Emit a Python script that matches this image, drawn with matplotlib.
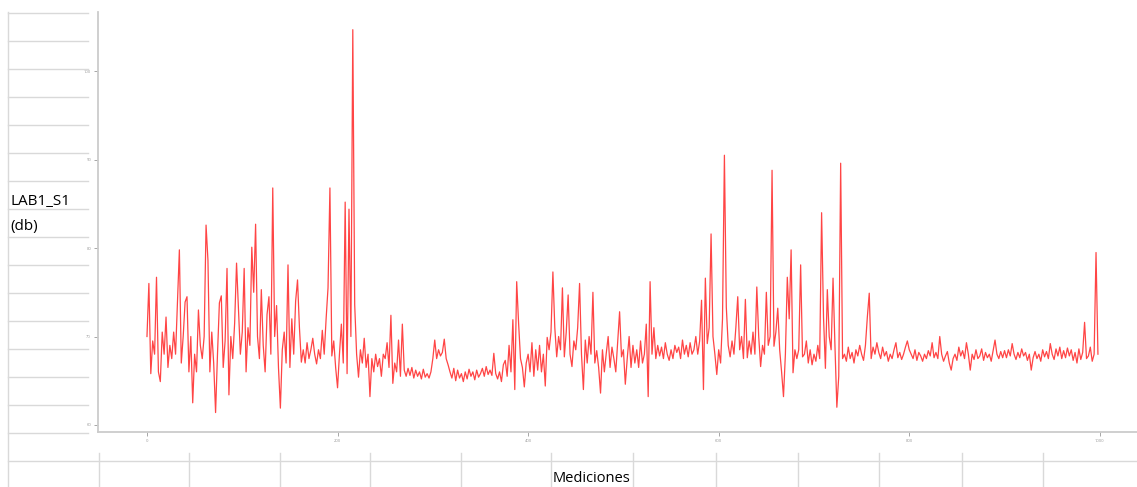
import matplotlib.pyplot as plt
import numpy as np
from matplotlib.lines import Line2D

# numero de medicion (cada 2)
mediciones = np.arange(0, 1000, 2)

# nivel LAB1_S1 en db
nivel_db = [
    70.0, 76.0, 65.8, 69.5, 68.0, 76.7, 66.0, 64.9, 70.5, 68.0, 72.2, 66.5, 69.0, 67.5, 70.5, 68.0, 74.0, 79.8, 67.0, 70.0, 73.9, 74.5, 66.0, 70.0, 62.5,
    68.0, 66.0, 73.0, 69.0, 67.5, 70.0, 82.6, 78.6, 66.0, 70.5, 67.0, 61.4, 68.0, 73.8, 74.6, 66.5, 69.5, 77.7, 63.4, 70.0, 67.5, 71.5, 78.3, 73.0, 68.0,
    70.5, 77.7, 66.0, 71.0, 69.0, 80.1, 75.0, 82.7, 70.0, 67.5, 75.3, 69.0, 66.0, 72.5, 74.5, 68.0, 86.8, 70.0, 73.5, 66.5, 61.9, 68.5, 70.5, 67.0, 78.1,
    66.5, 72.0, 68.0, 74.0, 76.4, 71.0, 67.1, 68.5, 67.0, 69.3, 67.5, 68.5, 69.8, 68.0, 66.9, 68.5, 67.5, 70.7, 68.0, 72.0, 75.5, 86.8, 67.8, 69.5, 66.5,
    64.2, 68.0, 71.4, 67.0, 85.2, 65.8, 84.4, 70.0, 104.7, 73.6, 68.0, 65.4, 68.5, 67.0, 69.8, 66.5, 68.0, 63.2, 67.5, 66.0, 68.0, 66.6, 67.5, 65.5, 68.0,
    67.5, 69.3, 66.5, 72.4, 64.7, 67.0, 66.0, 69.6, 65.5, 71.4, 66.2, 65.5, 66.4, 65.6, 66.5, 65.3, 66.2, 65.5, 66.0, 65.2, 66.3, 65.4, 65.8, 65.3, 66.0,
    67.5, 69.6, 67.5, 68.5, 67.8, 68.2, 69.7, 67.5, 66.8, 66.0, 65.3, 66.4, 65.0, 66.2, 65.3, 65.8, 64.9, 66.0, 65.2, 66.3, 65.5, 66.0, 65.1, 66.2, 65.4,
    65.8, 66.4, 65.5, 66.6, 65.7, 66.2, 65.6, 68.1, 65.8, 65.2, 66.0, 64.9, 66.8, 67.3, 65.5, 69.0, 66.0, 71.9, 64.0, 76.2, 71.5, 67.5, 66.5, 64.3, 67.0,
    68.0, 66.0, 69.3, 65.5, 68.5, 66.2, 69.0, 66.0, 68.0, 64.4, 69.9, 68.5, 70.5, 77.3, 71.0, 67.7, 70.0, 68.5, 75.5, 67.7, 70.5, 74.7, 68.0, 66.6, 69.5,
    68.5, 71.0, 76.0, 68.0, 64.0, 69.6, 67.0, 70.0, 68.0, 75.0, 67.0, 68.4, 66.5, 63.6, 68.5, 66.0, 68.1, 70.0, 66.5, 68.8, 67.5, 66.0, 69.5, 72.8, 67.7,
    68.5, 64.6, 67.5, 70.0, 66.5, 69.0, 67.0, 68.5, 66.5, 69.5, 67.0, 68.0, 71.4, 63.2, 76.2, 68.0, 71.0, 67.5, 69.0, 67.8, 68.8, 67.5, 69.3, 68.0, 67.3,
    68.5, 67.5, 69.0, 68.2, 68.8, 67.5, 69.6, 68.0, 69.0, 67.7, 69.3, 68.0, 68.5, 70.0, 68.0, 69.5, 74.1, 64.0, 76.6, 69.2, 71.0, 81.6, 70.0, 68.0, 65.7,
    68.5, 67.0, 72.0, 90.5, 73.3, 69.0, 67.7, 69.5, 68.0, 71.0, 74.5, 68.5, 70.0, 67.5, 74.2, 67.6, 69.5, 68.0, 70.5, 68.0, 75.6, 70.0, 66.6, 69.0, 68.0,
    75.0, 69.0, 70.0, 88.8, 68.9, 70.5, 73.2, 68.5, 66.0, 63.2, 68.0, 76.7, 72.0, 79.8, 65.9, 68.5, 67.5, 68.5, 78.1, 67.7, 68.0, 69.5, 67.0, 68.5, 66.8,
    68.0, 67.2, 69.0, 67.5, 84.0, 72.2, 66.4, 75.3, 70.0, 68.5, 76.6, 69.0, 62.0, 65.5, 89.6, 67.5, 68.0, 67.2, 68.8, 67.5, 68.2, 67.0, 68.5, 67.8, 69.0,
    68.0, 67.3, 69.0, 72.2, 74.9, 67.5, 68.8, 68.0, 69.3, 68.2, 67.5, 68.8, 67.8, 68.3, 67.2, 68.0, 67.5, 68.5, 69.3, 67.6, 68.2, 67.4, 68.0, 68.8, 69.5,
    68.5, 68.0, 67.5, 68.5, 67.3, 68.2, 67.8, 67.2, 68.0, 67.5, 68.4, 67.8, 69.3, 67.6, 68.2, 67.5, 70.0, 68.0, 67.2, 67.8, 68.3, 67.0, 66.2, 67.5, 68.0,
    67.3, 68.8, 67.8, 68.4, 67.5, 69.3, 68.0, 66.2, 68.0, 67.4, 68.5, 67.5, 67.8, 68.6, 67.3, 68.2, 67.6, 68.0, 67.2, 68.4, 69.6, 68.0, 67.5, 68.3, 67.6,
    68.4, 67.6, 68.5, 67.8, 69.2, 68.0, 67.4, 68.2, 67.6, 68.6, 67.8, 68.2, 67.3, 68.0, 66.2, 67.6, 68.3, 67.5, 68.0, 67.2, 68.5, 67.7, 68.3, 67.5, 69.2,
    68.0, 67.4, 68.6, 67.8, 68.8, 67.5, 68.4, 67.6, 68.7, 67.8, 68.5, 67.3, 68.2, 67.0, 68.6, 67.4, 68.2, 71.6, 67.5, 67.8, 68.8, 67.2, 68.0, 79.5, 68.0,
]

y_ticks = [60, 70, 80, 90, 100]
x_ticks = [0, 200, 400, 600, 800, 1000]

W, H = 1137, 487
fig = plt.figure(figsize=(W / 100, H / 100), dpi=100)
plt.rcParams['font.family'] = ['Open Sans', 'DejaVu Sans']

grid_color = '#d9d9d9'


def hline(y, x0, x1):
    # linea de la hoja de calculo, en pixeles
    fig.add_artist(Line2D([x0 / W, x1 / W], [1 - y / H, 1 - y / H],
                          transform=fig.transFigure, color=grid_color, lw=1))


def vline(x, y0, y1):
    fig.add_artist(Line2D([x / W, x / W], [1 - y0 / H, 1 - y1 / H],
                          transform=fig.transFigure, color=grid_color, lw=1))


# filas de la hoja a la izquierda
for row_y in range(13, 434, 28):
    hline(row_y, 8, 88)
vline(8, 12, H)
hline(461, 8, W)
# columnas debajo del grafico
for col_x in [99, 189, 280, 370, 461, 551, 633, 716, 798, 879, 962, 1043]:
    vline(col_x, 453, H)

ax = fig.add_axes([98 / W, 1 - 432 / H, 1 - 98 / W, (432 - 12) / H])
ax.plot(mediciones, nivel_db, color='#ff2424', lw=0.9, alpha=0.85)

ax.set_xlim(-51.4, 1039)
ax.set_ylim(59.2, 106.7)
ax.set_xticks(x_ticks)
ax.set_yticks(y_ticks)
ax.tick_params(labelsize=3, colors='#999999', length=3, width=0.6, pad=2)
for side in ['top', 'right']:
    ax.spines[side].set_visible(False)
for side in ['left', 'bottom']:
    ax.spines[side].set_color('#cccccc')
    ax.spines[side].set_linewidth(1.3)

# etiquetas como celdas de la hoja
fig.text(10 / W, 1 - 205 / H, 'LAB1_S1', fontsize=11, va='baseline', ha='left')
fig.text(10 / W, 1 - 230 / H, '(db)', fontsize=11, va='baseline', ha='left')
fig.text(553 / W, 1 - 482 / H, 'Mediciones', fontsize=10.5, va='baseline', ha='left')

plt.savefig('out.png', dpi=100)
